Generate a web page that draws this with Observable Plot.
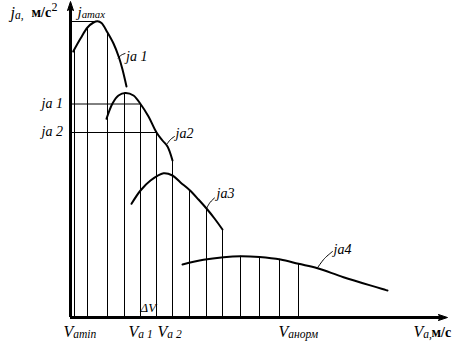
<!DOCTYPE html>
<html><head><meta charset="utf-8">
<script src="https://cdn.jsdelivr.net/npm/d3@7"></script>
<script src="https://cdn.jsdelivr.net/npm/@observablehq/plot@0.6"></script>
<style>body{margin:0;background:#fff} svg text{font-family:"Liberation Serif",serif !important}</style>
</head><body><div id="chart"></div>
<script>
// Velocity (V) and acceleration (j) in schematic units
const curve1 = [[0.27,26.6],[1.0,27.9],[1.7,29.0],[2.3,29.5],[2.7,29.63],[3.1,29.45],[3.7,28.5],[4.3,27.4],[4.85,26.0],[5.2,24.8],[5.6,23.1]];
const curve2 = [[3.6,19.87],[4.2,21.4],[4.8,22.2],[5.5,22.45],[6.3,22.2],[7.0,21.35],[7.8,20.1],[8.6,18.5],[9.2,17.7],[9.7,17.1],[10.2,15.7]];
const curve3 = [[6.1,11.37],[7.0,12.7],[8.0,13.7],[9.3,14.43],[10.2,14.2],[11.0,13.5],[11.9,12.75],[12.8,11.8],[13.6,10.9],[14.4,9.9],[15.2,8.8]];
const curve4 = [[11.2,5.3],[13.3,5.77],[15.3,6.03],[17.0,6.13],[18.9,6.05],[21.0,5.8],[22.8,5.37],[24.7,4.93],[27.3,4.03],[31.7,2.7]];
const curveNames = ["ja 1","ja2","ja3","ja4"];
const curveLabelAt = [[5.55,25.7],[10.5,18.0],[14.6,12.0],[26.3,6.4]];
const leaders = [
  [[4.75,25.95],[5.1,26.25],[5.45,26.4]],
  [[9.67,17.37],[10.0,17.8],[10.4,18.1]],
  [[13.6,10.9],[13.95,11.5],[14.4,11.95]],
  [[24.67,4.93],[25.4,5.9],[26.2,6.6]]
];
// speed steps (vertical lines) and their tops
const gridV   = [0.4, 1.7, 3.7, 5.4, 7.0, 8.6, 10.2, 11.9, 13.6, 15.2, 17.0, 18.9, 20.9, 22.8];
const gridTop = [26.9,29.0,28.5,22.45,21.35,18.5,15.7, 12.75,10.9, 8.8, 6.13, 6.05, 5.82, 5.37];
// horizontal guide levels
const guideNames = ["j_amax", "ja 1", "ja 2"];
const guideJ   = [29.6, 21.35, 18.5];
const guideEnd = [2.7, 7.0, 8.6];
// x-axis tick labels
const vNames = ["V_amin", "V_a 1", "V_a 2", "V_aнорм"];
const vAt    = [-0.7, 5.8, 8.7, 20.8];

const curves = [curve1, curve2, curve3, curve4].flatMap((c, k) => c.map(([v, j]) => ({v, j, k})));
const leaderPts = leaders.flatMap((c, k) => c.map(([v, j]) => ({v, j, k})));
const grid = gridV.map((v, i) => ({v, top: gridTop[i]}));
const guides = guideJ.map((j, i) => ({j, end: guideEnd[i], name: guideNames[i]}));
const font = "'Liberation Serif', serif";
const T = (data, o) => Plot.text(data, {textAnchor: "start", lineAnchor: "bottom", fill: "#000", fontFamily: font, ...o});

const chart = Plot.plot({
  width: 458, height: 353,
  marginLeft: 70, marginRight: 8, marginTop: 5, marginBottom: 36,
  x: {domain: [0, 38], axis: null},
  y: {domain: [0, 31.2], axis: null},
  style: {background: "#fff", fontFamily: font, color: "#000"},
  marks: [
    Plot.ruleX(grid, {x: "v", y1: 0, y2: "top", stroke: "#000", strokeWidth: 1}),
    Plot.ruleY(guides, {y: "j", x1: 0, x2: "end", stroke: "#000", strokeWidth: 1}),
    Plot.line(curves, {x: "v", y: "j", z: "k", curve: "catmull-rom", stroke: "#000", strokeWidth: 2}),
    Plot.line(leaderPts, {x: "v", y: "j", z: "k", curve: "catmull-rom", stroke: "#000", strokeWidth: 1}),
    Plot.ruleX([0], {y1: 0, y2: 31.0, stroke: "#000", strokeWidth: 3}),
    Plot.ruleY([0], {x1: 0, x2: 37.0, stroke: "#000", strokeWidth: 3}),
    Plot.vector([{x: 0, y: 31.6, r: 0}, {x: 37.7, y: 0, r: 90}], {x: "x", y: "y", rotate: "r", length: 9, r: 3, shape: "spike", anchor: "end", fill: "#000", stroke: "#000", strokeWidth: 1}),
    // curve labels
    T(curveNames, {x: (d, i) => curveLabelAt[i][0], y: (d, i) => curveLabelAt[i][1], text: d => d, fontSize: 14, fontStyle: "italic"}),
    // guide labels on y side
    T(guides.slice(1), {x: -0.75, y: d => d.j - 0.35, text: "name", textAnchor: "end", fontSize: 14, fontStyle: "italic"}),
    T([guides[0]], {x: 0.7, y: 30.1, text: "name", fontSize: 15, fontStyle: "italic"}),
    // x labels
    T(vNames, {x: (d, i) => vAt[i], y: -1.95, text: d => d, fontSize: 16, fontStyle: "italic"}),
    T(["ΔV"], {x: 7.0, y: 0.6, text: d => d, fontSize: 13, fontStyle: "italic"}),
    // axis titles
    T(["j_a,"], {x: -6.0, y: 30.0, text: d => d, fontSize: 16, fontStyle: "italic"}),
    T(["м/с"], {x: -3.9, y: 30.05, text: d => d, fontSize: 14, fontWeight: "bold"}),
    T(["2"], {x: -1.9, y: 30.7, text: d => d, fontSize: 12}),
    T(["V_a,"], {x: 34.3, y: -1.95, text: d => d, fontSize: 16, fontStyle: "italic"}),
    T(["м/с"], {x: 36.1, y: -1.95, text: d => d, fontSize: 14, fontWeight: "bold"})
  ]
});

// turn "base_sub" into a subscript
d3.select(chart).selectAll("text").each(function () {
  const s = this.textContent;
  if (!s.includes("_")) return;
  const [base, sub] = s.split("_");
  const t = d3.select(this);
  t.text(null);
  t.append("tspan").text(base);
  t.append("tspan").attr("font-size", "0.72em").attr("dy", "0.12em").text(sub);
});

document.getElementById("chart").append(chart);
</script>
</body></html>
